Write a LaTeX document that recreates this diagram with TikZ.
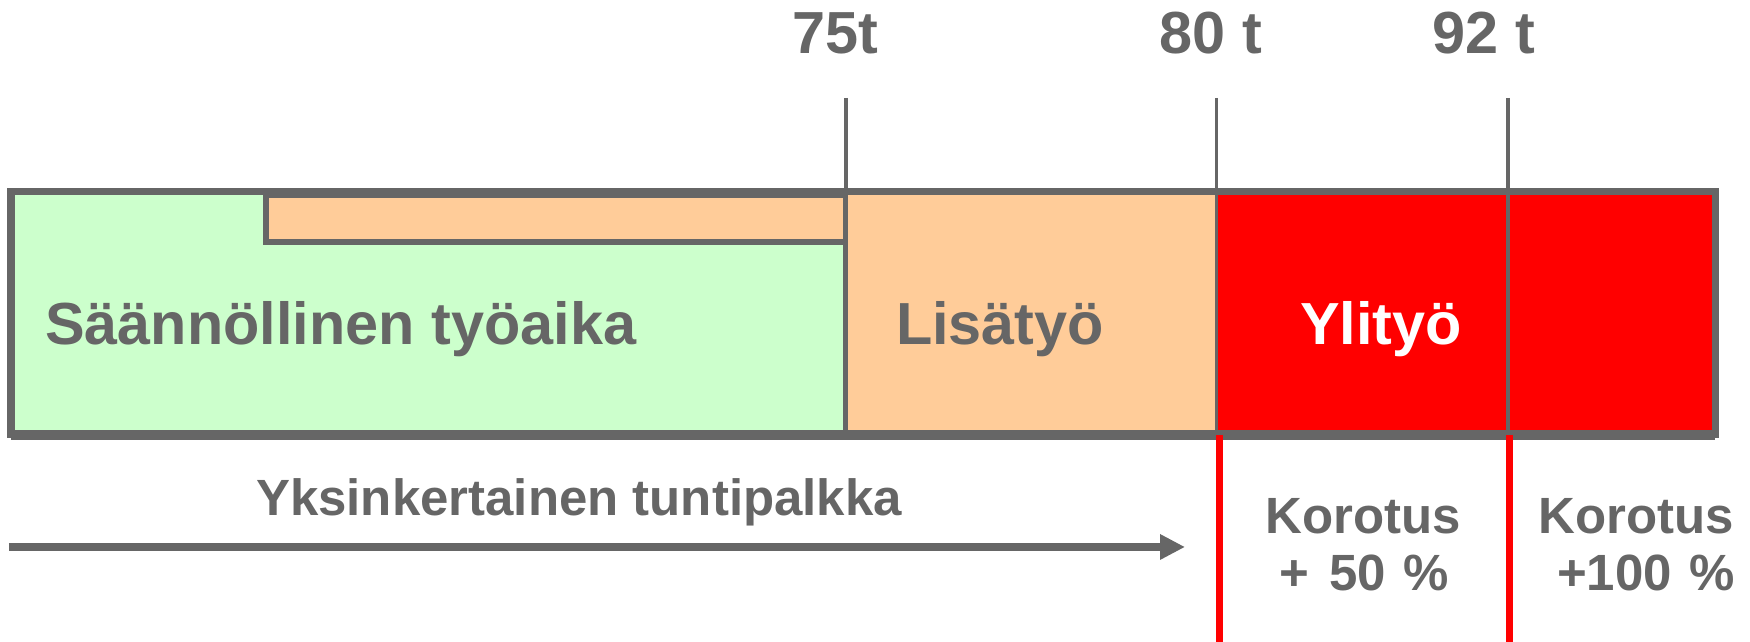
\documentclass[tikz,border=0pt]{standalone}
\usepackage{fontspec}
\setmainfont{Liberation Sans}
\usetikzlibrary{arrows.meta}
\definecolor{hgray}{HTML}{666666}
\definecolor{hgreen}{HTML}{CCFFCC}
\definecolor{horange}{HTML}{FFCC99}
\definecolor{hred}{HTML}{FF0000}
\tikzset{
  biglabel/.style={text=hgray,font=\fontsize{16.9}{19}\selectfont\bfseries,inner sep=0pt},
  smalllabel/.style={text=hgray,font=\fontsize{14.5}{17}\selectfont\bfseries,inner sep=0pt,align=center},
  tick/.style={draw=hgray,line width=1pt},
  redline/.style={draw=hred,line width=2pt}
}
\begin{document}
\begin{tikzpicture}
			%%%%% START %%%%%
			\def\xl{0.11}
			\def\xr{17.15}
			\def\ytop{4.50}
			\def\ybot{2.07}
			\def\xbar{2.66}
			\def\ybar{4.00}
			\def\xone{8.46}
			\def\xtwo{12.165}
			\def\xthree{15.08}
			\def\ytick{5.44}
			\def\ylab{3.13}
			
			\useasboundingbox (0,0) rectangle (17.5,6.42);
			
			% regions
			\draw[fill=hgreen,draw=hgray,line width=1.6pt] (\xl,\ybot) rectangle (\xone,\ytop);
			\draw[fill=horange,draw=hgray,line width=1.6pt] (\xbar,\ybar) rectangle (\xone,\ytop-0.03);
			\draw[fill=horange,draw=hgray,line width=1pt] (\xone,\ybot) rectangle (\xtwo,\ytop);
			\draw[fill=hred,draw=hgray,line width=1pt] (\xtwo,\ybot) rectangle (\xr,\ytop);
			\draw[tick] (\xthree,\ybot) -- (\xthree,\ytop);
			\draw[draw=hgray,line width=2pt] (\xl,\ybot) rectangle (\xr,\ytop);
			\draw[draw=hgray,line width=2.8pt] (\xl,\ybot) -- (\xr,\ybot);
			
			% ticks
			\node[biglabel] (t75) at (8.35,6.085) {75t};
			\node[biglabel] (t80) at (12.11,6.085) {80 t};
			\node[biglabel] (t92) at (14.84,6.085) {92 t};
			\draw[tick] (\xone,\ytick) -- (\xone,\ytop);
			\draw[tick] (\xtwo,\ytick) -- (\xtwo,\ytop);
			\draw[tick] (\xthree,\ytick) -- (\xthree,\ytop);
			
			% region labels
			\node[biglabel,anchor=west] (saan) at (0.446,\ylab) {Säännöllinen työaika};
			\node[biglabel] (lisa) at (10.00,\ylab) {Lisätyö};
			\node[biglabel,text=white] (yli) at (13.81,\ylab) {Ylityö};
			
			% red lines
			\draw[redline] (12.19,\ybot) -- (12.19,0);
			\draw[redline] (15.09,\ybot) -- (15.09,0);
			
			% pay
			\coordinate (pstart) at (0.09,0.95);
			\coordinate (pend) at (11.85,0.95);
			\draw[draw=hgray,line width=2pt,-{Triangle[length=0.25cm,width=0.24cm]}] (pstart) -- (pend);
			\node[smalllabel] (yks) at (5.79,1.40) {Yksinkertainen tuntipalkka};
			\node[smalllabel] (kor1) at (13.63,1.26) {Korotus};
			\node[smalllabel] (pct1) at (13.64,0.69) {+\hspace{0.4em}50\hspace{0.35em}\%};
			\node[smalllabel] (kor2) at (16.36,1.26) {Korotus};
			\node[smalllabel] (pct2) at (16.46,0.69) {+100\hspace{0.35em}\%};
			%%%%% END %%%%%
\end{tikzpicture}
\end{document}
